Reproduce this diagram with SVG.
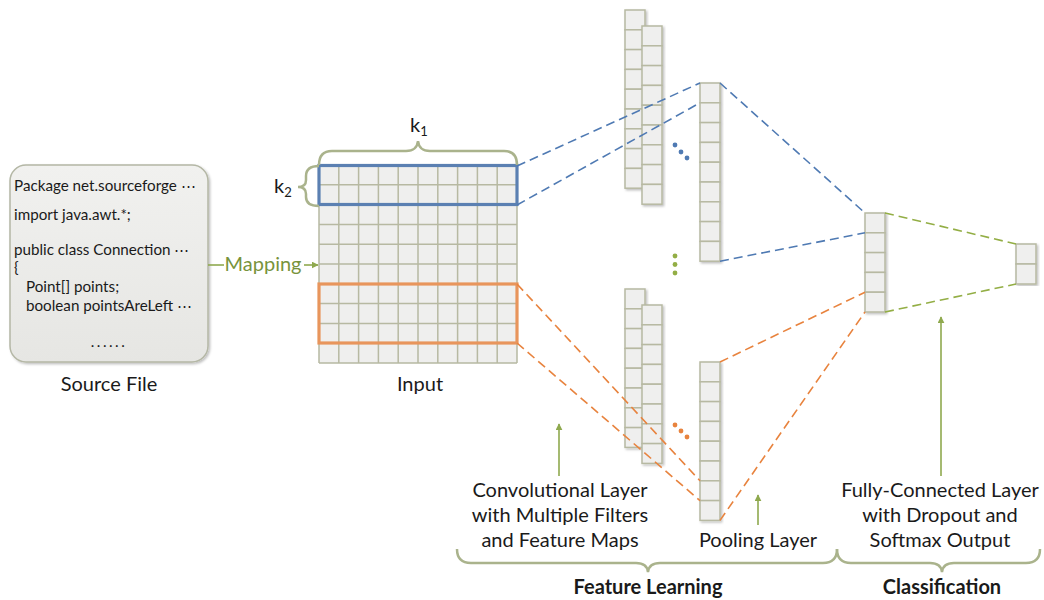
<svg xmlns="http://www.w3.org/2000/svg" width="1044" height="600" viewBox="0 0 1044 600">
<defs>
<style>
.t{font-family:Lato,"Liberation Sans",sans-serif;fill:#1a1a1a}
.src{font-size:15.2px}
.lbl{font-size:20px;text-anchor:middle}
.bold{font-size:20px;font-weight:bold;text-anchor:middle}
.cell{fill:#efefee;stroke:#b7b9a2;stroke-width:1.5}
.grid{stroke:#b7b9a2;stroke-width:1.5;fill:none}
.brace{fill:none;stroke:#aab38c;stroke-width:2.5}
.dash{fill:none;stroke-width:1.6;stroke-dasharray:9 5}
.blue{stroke:#4f7ab3}
.orange{stroke:#e8833e}
.green{stroke:#93ae45}
.arr{stroke:#8fa94e;stroke-width:1.6;fill:none}
</style>
<marker id="ah" viewBox="0 0 10 10" refX="9" refY="5" markerWidth="7" markerHeight="7" orient="auto" markerUnits="userSpaceOnUse">
<path d="M0,0 L10,5 L0,10 z" fill="#8fa94e"/>
</marker>
<linearGradient id="srcg" x1="0" y1="0" x2="0" y2="1">
<stop offset="0" stop-color="#f1f1ef"/>
<stop offset="1" stop-color="#e6e6e3"/>
</linearGradient>
<filter id="sh" x="-20%" y="-5%" width="140%" height="110%">
<feDropShadow dx="1.5" dy="1.5" stdDeviation="1" flood-color="#000" flood-opacity="0.25"/>
</filter>
</defs>
<rect width="1044" height="600" fill="#ffffff"/>

<g id="source-file">
<rect x="10" y="165" width="198" height="197" rx="16" fill="url(#srcg)" stroke="#b4b7a5" stroke-width="1.5" filter="url(#sh)"/>
<text class="t src" x="14" y="191">Package net.sourceforge ⋯</text>
<text class="t src" x="14" y="220">import java.awt.*;</text>
<text class="t src" x="14" y="255">public class Connection ⋯</text>
<text class="t src" x="14" y="273">{</text>
<text class="t src" x="26" y="292">Point[] points;</text>
<text class="t src" x="26" y="311">boolean pointsAreLeft ⋯</text>
<text class="t src" x="109" y="347" text-anchor="middle" letter-spacing="2.5">......</text>
<text class="t lbl" x="109" y="391">Source File</text>
</g>

<g id="mapping">
<line x1="208" y1="265" x2="224" y2="265" class="arr"/>
<text x="263" y="271" font-family="Lato,'Liberation Sans',sans-serif" font-size="20" fill="#77933c" text-anchor="middle">Mapping</text>
<line x1="304" y1="265" x2="318" y2="265" class="arr" marker-end="url(#ah)"/>
</g>

<g id="input">
<rect x="319" y="165" width="198" height="198" fill="#efefee"/>
<path class="grid" d="M319,165H517M319,184.8H517M319,204.6H517M319,224.4H517M319,244.2H517M319,264H517M319,283.8H517M319,303.6H517M319,323.4H517M319,343.2H517M319,363H517
M319,165V363M338.8,165V363M358.6,165V363M378.4,165V363M398.2,165V363M418,165V363M437.8,165V363M457.6,165V363M477.4,165V363M497.2,165V363M517,165V363"/>
<rect x="319" y="165.5" width="198" height="39" fill="none" stroke="#5b80b2" stroke-width="3.2"/>
<rect x="319" y="284" width="198" height="59" fill="none" stroke="#e8955c" stroke-width="3.2"/>
<path class="brace" d="M319,165 Q319,151 332,151 H406 Q417,151 418,141 Q419,151 430,151 H504 Q517,151 517,165"/>
<path class="brace" d="M319,166 Q306,166 306,176 V180 Q306,187 298,187 Q306,187 306,194 V197 Q306,206 319,206"/>
<text class="t" x="410" y="132" font-size="20">k<tspan font-size="13" dy="4">1</tspan></text>
<text class="t" x="274" y="193" font-size="20">k<tspan font-size="13" dy="4">2</tspan></text>
<text class="t lbl" x="420" y="391">Input</text>
</g>

<g id="conv-top" filter="url(#sh)">
<rect class="cell" x="625" y="10" width="20" height="19.8"/><rect class="cell" x="625" y="29.8" width="20" height="19.8"/><rect class="cell" x="625" y="49.6" width="20" height="19.8"/><rect class="cell" x="625" y="69.4" width="20" height="19.8"/><rect class="cell" x="625" y="89.2" width="20" height="19.8"/><rect class="cell" x="625" y="109" width="20" height="19.8"/><rect class="cell" x="625" y="128.8" width="20" height="19.8"/><rect class="cell" x="625" y="148.6" width="20" height="19.8"/><rect class="cell" x="625" y="168.4" width="20" height="19.8"/>
</g>
<g id="conv-top-2" filter="url(#sh)">
<rect class="cell" x="642" y="26" width="20" height="19.8"/><rect class="cell" x="642" y="45.8" width="20" height="19.8"/><rect class="cell" x="642" y="65.6" width="20" height="19.8"/><rect class="cell" x="642" y="85.4" width="20" height="19.8"/><rect class="cell" x="642" y="105.2" width="20" height="19.8"/><rect class="cell" x="642" y="125" width="20" height="19.8"/><rect class="cell" x="642" y="144.8" width="20" height="19.8"/><rect class="cell" x="642" y="164.6" width="20" height="19.8"/><rect class="cell" x="642" y="184.4" width="20" height="19.8"/>
</g>
<g id="pool-top" filter="url(#sh)">
<rect class="cell" x="700" y="83" width="20" height="19.8"/><rect class="cell" x="700" y="102.8" width="20" height="19.8"/><rect class="cell" x="700" y="122.6" width="20" height="19.8"/><rect class="cell" x="700" y="142.4" width="20" height="19.8"/><rect class="cell" x="700" y="162.2" width="20" height="19.8"/><rect class="cell" x="700" y="182" width="20" height="19.8"/><rect class="cell" x="700" y="201.8" width="20" height="19.8"/><rect class="cell" x="700" y="221.6" width="20" height="19.8"/><rect class="cell" x="700" y="241.4" width="20" height="19.8"/>
</g>
<g id="conv-bottom" filter="url(#sh)">
<rect class="cell" x="625" y="289" width="20" height="19.8"/><rect class="cell" x="625" y="308.8" width="20" height="19.8"/><rect class="cell" x="625" y="328.6" width="20" height="19.8"/><rect class="cell" x="625" y="348.4" width="20" height="19.8"/><rect class="cell" x="625" y="368.2" width="20" height="19.8"/><rect class="cell" x="625" y="388" width="20" height="19.8"/><rect class="cell" x="625" y="407.8" width="20" height="19.8"/><rect class="cell" x="625" y="427.6" width="20" height="19.8"/>
</g>
<g id="conv-bottom-2" filter="url(#sh)">
<rect class="cell" x="642" y="305" width="20" height="19.8"/><rect class="cell" x="642" y="324.8" width="20" height="19.8"/><rect class="cell" x="642" y="344.6" width="20" height="19.8"/><rect class="cell" x="642" y="364.4" width="20" height="19.8"/><rect class="cell" x="642" y="384.2" width="20" height="19.8"/><rect class="cell" x="642" y="404" width="20" height="19.8"/><rect class="cell" x="642" y="423.8" width="20" height="19.8"/><rect class="cell" x="642" y="443.6" width="20" height="19.8"/>
</g>
<g id="pool-bottom" filter="url(#sh)">
<rect class="cell" x="700" y="362" width="20" height="19.8"/><rect class="cell" x="700" y="381.8" width="20" height="19.8"/><rect class="cell" x="700" y="401.6" width="20" height="19.8"/><rect class="cell" x="700" y="421.4" width="20" height="19.8"/><rect class="cell" x="700" y="441.2" width="20" height="19.8"/><rect class="cell" x="700" y="461" width="20" height="19.8"/><rect class="cell" x="700" y="480.8" width="20" height="19.8"/><rect class="cell" x="700" y="500.6" width="20" height="19.8"/>
</g>
<g id="fc" filter="url(#sh)">
<rect class="cell" x="865" y="213" width="20" height="19.8"/><rect class="cell" x="865" y="232.8" width="20" height="19.8"/><rect class="cell" x="865" y="252.6" width="20" height="19.8"/><rect class="cell" x="865" y="272.4" width="20" height="19.8"/><rect class="cell" x="865" y="292.2" width="20" height="19.8"/>
</g>
<g id="output" filter="url(#sh)">
<rect class="cell" x="1016" y="244" width="20" height="20"/><rect class="cell" x="1016" y="264" width="20" height="20"/>
</g>

<g id="dots">
<circle cx="675" cy="145" r="2.4" fill="#4f7ab3"/><circle cx="681" cy="152" r="2.4" fill="#4f7ab3"/><circle cx="687" cy="158" r="2.4" fill="#4f7ab3"/>
<circle cx="675" cy="256" r="2.4" fill="#93ae45"/><circle cx="675" cy="264.5" r="2.4" fill="#93ae45"/><circle cx="675" cy="273" r="2.4" fill="#93ae45"/>
<circle cx="675" cy="425" r="2.4" fill="#e8833e"/><circle cx="681" cy="431" r="2.4" fill="#e8833e"/><circle cx="687" cy="437" r="2.4" fill="#e8833e"/>
</g>

<g id="connectors">
<line class="dash blue" x1="517" y1="166" x2="700" y2="83"/>
<line class="dash blue" x1="517" y1="205" x2="700" y2="102.8"/>
<line class="dash blue" x1="720" y1="83" x2="865" y2="213"/>
<line class="dash blue" x1="720" y1="261.2" x2="865" y2="232.8"/>
<line class="dash orange" x1="517" y1="284" x2="700" y2="480.8"/>
<line class="dash orange" x1="517" y1="343" x2="700" y2="500.6"/>
<line class="dash orange" x1="720" y1="362" x2="865" y2="292.2"/>
<line class="dash orange" x1="720" y1="520.4" x2="865" y2="312"/>
<line class="dash green" x1="885" y1="213" x2="1016" y2="244"/>
<line class="dash green" x1="885" y1="312" x2="1016" y2="284"/>
<line class="arr" x1="559" y1="476" x2="559" y2="424" marker-end="url(#ah)"/>
<line class="arr" x1="758" y1="525" x2="758" y2="495" marker-end="url(#ah)"/>
<line class="arr" x1="941" y1="476" x2="941" y2="317" marker-end="url(#ah)"/>
</g>

<g id="labels">
<text class="t lbl" x="560" y="497">Convolutional Layer</text>
<text class="t lbl" x="560" y="522">with Multiple Filters</text>
<text class="t lbl" x="560" y="547">and Feature Maps</text>
<text class="t lbl" x="758" y="547">Pooling Layer</text>
<text class="t lbl" x="940" y="497">Fully-Connected Layer</text>
<text class="t lbl" x="940" y="522">with Dropout and</text>
<text class="t lbl" x="940" y="547">Softmax Output</text>
<path class="brace" d="M457,549 Q457,563 471,563 H636 Q647,563 648,572 Q649,563 660,563 H823 Q837,563 837,549"/>
<path class="brace" d="M837,549 Q837,563 851,563 H930 Q941,563 942,572 Q943,563 954,563 H1026 Q1040,563 1040,549"/>
<text class="t bold" x="648" y="594">Feature Learning</text>
<text class="t bold" x="942" y="594">Classification</text>
</g>
</svg>
